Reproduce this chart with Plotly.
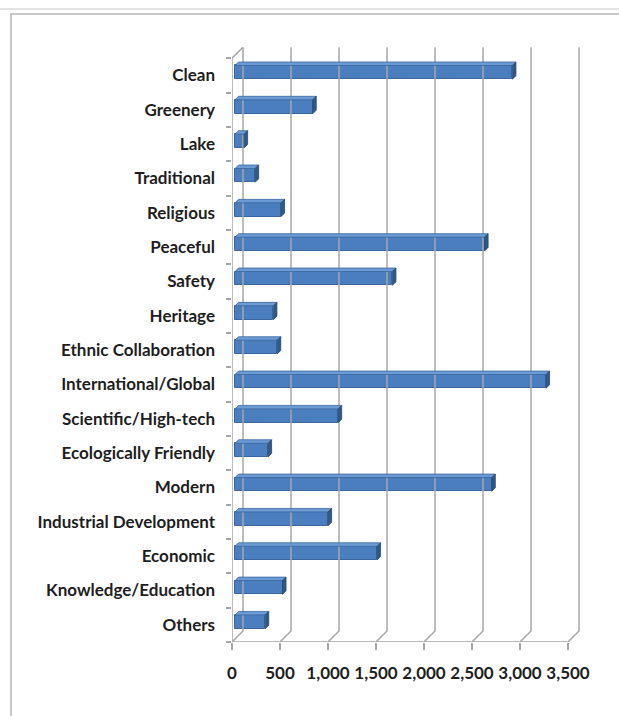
import plotly.graph_objects as go

categories = ["Clean", "Greenery", "Lake", "Traditional", "Religious", "Peaceful",
              "Safety", "Heritage", "Ethnic Collaboration", "International/Global",
              "Scientific/High-tech", "Ecologically Friendly", "Modern",
              "Industrial Development", "Economic", "Knowledge/Education", "Others"]
values = [2890, 810, 95, 210, 480, 2600, 1640, 400, 440, 3240, 1075, 345, 2675,
          970, 1480, 495, 315]
x_ticks = [0, 500, 1000, 1500, 2000, 2500, 3000, 3500]

W, H = 619, 716
L, R, T, B = 232, 24, 41, 74
plot_w = W - L - R
plot_h = H - T - B
PX_PER_UNIT = 0.096
x_max = plot_w / PX_PER_UNIT
n = len(categories)
y_lo, y_hi = n - 0.5, -1.0
band_px = plot_h / (y_lo - y_hi)

def ux(px):
    return px / PX_PER_UNIT

def uy(px):
    return px / band_px

# depth offsets (style)
DX, DY = ux(11), uy(11)          # wall depth
BX, BY = ux(3), uy(3)            # bar front plane offset
DBX, DBY = ux(3.5), uy(3.5)      # bar depth
BAR_W = 0.40

grid_col = "#A6A6A6"
fig = go.Figure()

# back wall gridlines + floor diagonals
gx, gy = [], []
for v in x_ticks:
    gx += [v + DX, v + DX, v, None]
    gy += [-0.5 - DY, y_lo - DY, y_lo, None]
# left wall
gx += [DX, 0, 0, None]
gy += [-0.5 - DY, -0.5, y_lo, None]
# front floor
gx += [0, x_ticks[-1], None]
gy += [y_lo, y_lo, None]
fig.add_trace(go.Scatter(x=gx, y=gy, mode="lines", line=dict(color=grid_col, width=1.5),
                         hoverinfo="skip", showlegend=False))

ys = [i - BY for i in range(n)]

# front faces
fig.add_trace(go.Bar(x=values, y=ys, base=[BX] * n, orientation="h", width=BAR_W,
                     marker=dict(color="#4A7EBF", line=dict(color="#3A679E", width=1)),
                     showlegend=False, hoverinfo="skip"))

# top and side faces
tx, ty, sx, sy = [], [], [], []
for i, v in enumerate(values):
    yt = ys[i] - BAR_W / 2
    yb = ys[i] + BAR_W / 2
    x0 = BX
    x1 = BX + v
    tx += [x0, x1, x1 + DBX, x0 + DBX, x0, None]
    ty += [yt, yt, yt - DBY, yt - DBY, yt, None]
    sx += [x1, x1, x1 + DBX, x1 + DBX, x1, None]
    sy += [yt, yb, yb - DBY, yt - DBY, yt, None]
fig.add_trace(go.Scatter(x=tx, y=ty, mode="lines", fill="toself", fillcolor="#6C9AD4",
                         line=dict(color="#3A679E", width=0.8), hoverinfo="skip", showlegend=False))
fig.add_trace(go.Scatter(x=sx, y=sy, mode="lines", fill="toself", fillcolor="#2F5887",
                         line=dict(color="#27496F", width=0.8), hoverinfo="skip", showlegend=False))

yfont = dict(family="Lato", size=17, color="#1E1E1E", weight="bold")
xfont = dict(family="Lato", size=17, color="#1E1E1E", weight="bold")

fig.update_layout(
    width=W, height=H, margin=dict(l=L, r=R, t=T, b=B, pad=0),
    paper_bgcolor="white", plot_bgcolor="white", bargap=0,
    xaxis=dict(range=[0, x_max], tickvals=x_ticks, tickformat=",d", ticks="outside",
               ticklen=7, tickcolor=grid_col, tickwidth=1.5, showgrid=False, zeroline=False,
               showline=False, tickfont=xfont, ticklabelstandoff=9, fixedrange=True),
    yaxis=dict(range=[y_lo, y_hi], tickvals=list(range(n)), ticktext=categories, ticks="",
               showgrid=False, zeroline=False, showline=False, tickfont=yfont,
               ticklabelstandoff=16,
               minor=dict(tickvals=[i - 0.5 for i in range(n + 1)], ticks="outside",
                          ticklen=5, tickcolor=grid_col, tickwidth=1.5, showgrid=False),
               fixedrange=True),
)

# outer frame (decoration, in paper coords)
def px_x(px):
    return (px - L) / plot_w

def px_y(py):
    return 1 - (py - T) / plot_h

frame_col = "#C8C8C8"
fig.add_shape(type="line", xref="paper", yref="paper", x0=px_x(0), x1=px_x(W),
              y0=px_y(9), y1=px_y(9), line=dict(color="#DADADA", width=1.5))
fig.add_shape(type="line", xref="paper", yref="paper", x0=px_x(10), x1=px_x(W),
              y0=px_y(14), y1=px_y(14), line=dict(color=frame_col, width=2))
fig.add_shape(type="line", xref="paper", yref="paper", x0=px_x(11), x1=px_x(11),
              y0=px_y(14), y1=px_y(H), line=dict(color=frame_col, width=2))

fig.write_html("out.html")
